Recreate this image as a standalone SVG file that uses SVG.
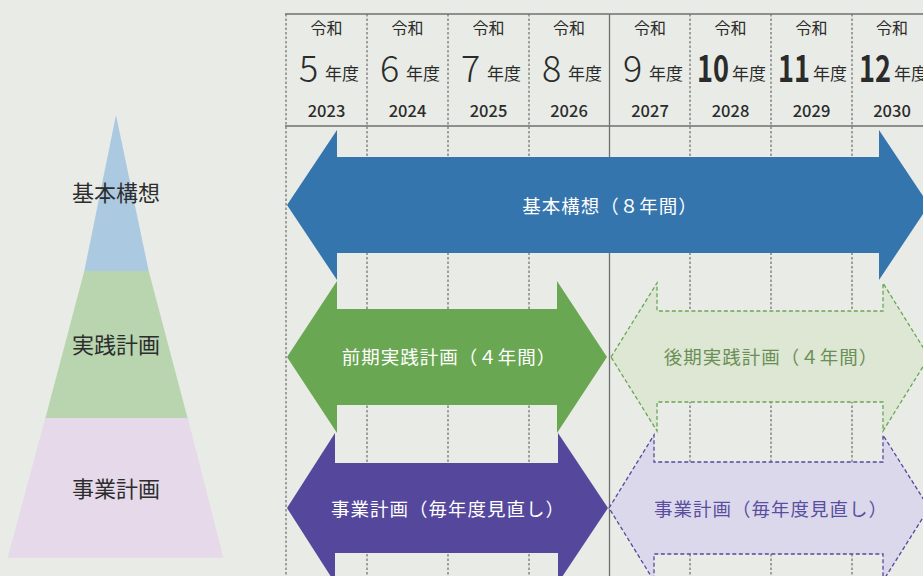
<svg xmlns="http://www.w3.org/2000/svg" width="923" height="576" viewBox="0 0 923 576">
<style>
text{font-family:"Noto Sans CJK JP","Noto Sans",sans-serif}
.hd{fill:#2b2b2b}
.rw{font-size:16px;text-anchor:middle}
.yr{font-size:16.5px;font-weight:500;text-anchor:middle}
.num{font-size:36px;font-weight:300}
.numb{font-size:36px;font-weight:bold}
.nd{font-size:17px;font-weight:normal}
.grid{stroke:#555;stroke-width:1;stroke-dasharray:2.5 2}
.solid{stroke:#6f6f6f;stroke-width:1.3}
.pl{font-size:22px;fill:#2d2d2d;text-anchor:middle}
.al{font-size:18.5px;text-anchor:middle;letter-spacing:1px}
</style>
<rect width="923" height="576" fill="#e9ebe6"/>

<g id="pyramid">
<polygon points="116,115 148.7,271 84.3,271" fill="#acc9e2"/>
<polygon points="84.3,271 148.7,271 187.7,418.5 45.3,418.5" fill="#b8d5b0"/>
<polygon points="45.3,418 187.7,418 223.3,557.7 7.7,557.7" fill="#e5d9ea"/>
<text class="pl" x="116" y="201">基本構想</text>
<text class="pl" x="116" y="353">実践計画</text>
<text class="pl" x="116" y="497">事業計画</text>
</g>

<g id="grid">
<line class="grid" x1="286" y1="14" x2="286" y2="576"/>
<line class="grid" x1="367" y1="14" x2="367" y2="576"/>
<line class="grid" x1="448" y1="14" x2="448" y2="576"/>
<line class="grid" x1="529" y1="14" x2="529" y2="576"/>
<line class="grid" x1="690" y1="14" x2="690" y2="576"/>
<line class="grid" x1="771" y1="14" x2="771" y2="576"/>
<line class="grid" x1="852" y1="14" x2="852" y2="576"/>
<line class="solid" x1="609.5" y1="14" x2="609.5" y2="576"/>
<line class="solid" x1="285" y1="14" x2="923" y2="14"/>
<line class="solid" x1="285" y1="126" x2="923" y2="126"/>
</g>

<g id="header" class="hd">
<text class="rw" x="326.5" y="34">令和</text>
<text class="rw" x="407.5" y="34">令和</text>
<text class="rw" x="488.5" y="34">令和</text>
<text class="rw" x="569" y="34">令和</text>
<text class="rw" x="650" y="34">令和</text>
<text class="rw" x="730.5" y="34">令和</text>
<text class="rw" x="811.5" y="34">令和</text>
<text class="rw" x="892" y="34">令和</text>

<text class="num" x="299" y="82">5</text><text class="nd" x="325" y="80">年度</text>
<text class="num" x="380" y="82">6</text><text class="nd" x="406" y="80">年度</text>
<text class="num" x="461" y="82">7</text><text class="nd" x="487" y="80">年度</text>
<text class="num" x="542" y="82">8</text><text class="nd" x="568" y="80">年度</text>
<text class="num" x="623" y="82">9</text><text class="nd" x="649" y="80">年度</text>
<text x="697" y="82"><tspan class="numb" textLength="32" lengthAdjust="spacingAndGlyphs">10</tspan><tspan class="nd" x="732" y="80">年度</tspan></text>
<text x="778" y="82"><tspan class="numb" textLength="32" lengthAdjust="spacingAndGlyphs">11</tspan><tspan class="nd" x="813" y="80">年度</tspan></text>
<text x="859" y="82"><tspan class="numb" textLength="32" lengthAdjust="spacingAndGlyphs">12</tspan><tspan class="nd" x="894" y="80">年度</tspan></text>

<text class="yr" x="326.5" y="117">2023</text>
<text class="yr" x="407.5" y="117">2024</text>
<text class="yr" x="488.5" y="117">2025</text>
<text class="yr" x="569" y="117">2026</text>
<text class="yr" x="650" y="117">2027</text>
<text class="yr" x="730.5" y="117">2028</text>
<text class="yr" x="811.5" y="117">2029</text>
<text class="yr" x="892" y="117">2030</text>
</g>

<g id="connectors">
<g id="arrow-kihon">
<polygon points="287,205 337,130 337,157 879,157 879,130 929,205 879,280 879,253 337,253 337,280" fill="#3575ae"/>
<text class="al" x="610" y="213" fill="#ffffff">基本構想（８年間）</text>
</g>

<g id="arrow-zenki">
<polygon points="287,357 337,281 337,309 557,309 557,281 607,357 557,433 557,405 337,405 337,433" fill="#6aa752"/>
<text class="al" x="449" y="363.5" fill="#ffffff">前期実践計画（４年間）</text>
</g>

<g id="arrow-kouki">
<polygon points="611,357 657,283 657,311 883,311 883,283 929,357 883,431 883,402 657,402 657,431" fill="#dde7d4" stroke="#6aa752" stroke-width="1.3" stroke-dasharray="4 2.5"/>
<text class="al" x="771" y="363.5" fill="#6a8f55">後期実践計画（４年間）</text>
</g>

<g id="arrow-jigyo1">
<polygon points="287,508 335,433 335,463 558,463 558,433 608,508 558,583 558,553 335,553 335,583" fill="#54479c"/>
<text class="al" x="448" y="515.5" fill="#ffffff">事業計画（毎年度見直し）</text>
</g>

<g id="arrow-jigyo2">
<polygon points="609,508 654,435 654,462 883,462 883,435 929,508 883,581 883,554 654,554 654,581" fill="#dcd8ec" stroke="#5747a0" stroke-width="1.3" stroke-dasharray="4 2.5"/>
<text class="al" x="771" y="515.5" fill="#5a4ea0">事業計画（毎年度見直し）</text>
</g>
</g>
</svg>
